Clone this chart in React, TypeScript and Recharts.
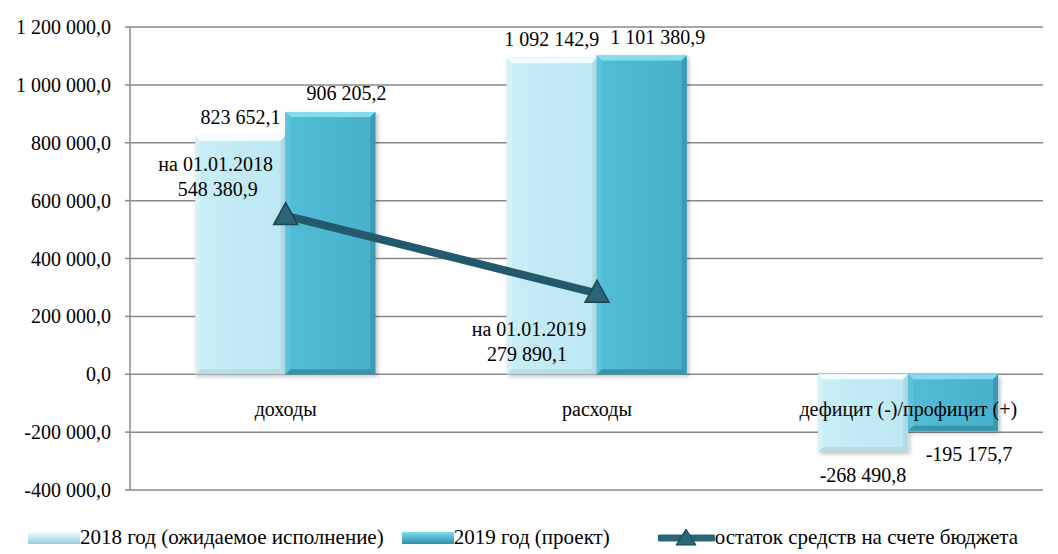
import React from "react";
import {
  ComposedChart,
  Bar,
  Line,
  XAxis,
  YAxis,
  CartesianGrid,
  LabelList,
  Legend,
} from "recharts";

const categories = ["доходы", "расходы", "дефицит (-)/профицит (+)"];
const expected2018 = [823652.1, 1092142.9, -268490.8];
const project2019 = [906205.2, 1101380.9, -195175.7];
const balance = [548380.9, 279890.1, null];
const balanceDates = ["на 01.01.2018", "на 01.01.2019", ""];
const yTicks = [-400000, -200000, 0, 200000, 400000, 600000, 800000, 1000000, 1200000];

const seriesNames = {
  a: "2018 год (ожидаемое исполнение)",
  b: "2019 год (проект)",
  c: "остаток средств на счете бюджета",
};

const data = categories.map((name, i) => ({
  name,
  a: expected2018[i],
  b: project2019[i],
  c: balance[i],
  date: balanceDates[i],
}));

const W = 1058;
const H = 554;
const MARGIN = { top: 27, right: -6, bottom: 0, left: 0 };
const X_AXIS_H = 2;
const LEGEND_H = 62;
const Y_AXIS_W = 130;
const GRID_RIGHT = 1043;
const DOMAIN: [number, number] = [-400000, 1200000];
const FONT = "Liberation Serif";
const FS = 20;

function fmt(v: number) {
  const neg = v < 0;
  const [int, dec] = Math.abs(v).toFixed(1).split(".");
  const grouped = int.replace(/\B(?=(\d{3})+(?!\d))/g, " ");
  return (neg ? "-" : "") + grouped + "," + dec;
}

const plotH = H - MARGIN.top - MARGIN.bottom - X_AXIS_H - LEGEND_H;
const zeroFromBottom = ((0 - DOMAIN[0]) / (DOMAIN[1] - DOMAIN[0])) * plotH;

function BevelBar(props: any) {
  const { x, y, width, height, light } = props;
  if (!width || !height) return null;
  const h = Math.abs(height);
  const top = height < 0 ? y + height : y;
  const b = 5;
  const id = light ? "gA" : "gB";
  const topC = light ? "#f4fdff" : "#86dcef";
  const rightC = light ? "#b2dbe6" : "#3a9bb4";
  const botC = light ? "#b6dce6" : "#3794ad";
  const leftC = light ? "#d5f1f8" : "#5cc3da";
  return (
    <g filter="url(#shadow)">
      <rect x={x} y={top} width={width} height={h} fill={`url(#${id})`} />
      <polygon
        points={`${x},${top} ${x + width},${top} ${x + width - b},${top + b} ${x + b},${top + b}`}
        fill={topC}
      />
      <polygon
        points={`${x + width},${top} ${x + width},${top + h} ${x + width - b},${top + h - b} ${x + width - b},${top + b}`}
        fill={rightC}
      />
      <polygon
        points={`${x},${top + h} ${x + width},${top + h} ${x + width - b},${top + h - b} ${x + b},${top + h - b}`}
        fill={botC}
      />
      <polygon
        points={`${x},${top} ${x + b},${top + b} ${x + b},${top + h - b} ${x},${top + h}`}
        fill={leftC}
      />
    </g>
  );
}

function BarValue(props: any) {
  const { x, y, width, height, value, shift } = props;
  const neg = value < 0;
  const cx = x + width / 2 + (shift || 0);
  const yy = neg ? Math.max(y, y + height) + 30 : Math.min(y, y + height) - 12;
  return (
    <text x={cx} y={yy} textAnchor="middle" fontFamily={FONT} fontSize={FS} fill="#000">
      {fmt(value)}
    </text>
  );
}

function LineValue(props: any) {
  const { x, y, value, index } = props;
  if (value == null) return null;
  const above = index === 0;
  const dx = above ? -70 : -68;
  const y1 = above ? y - 45 : y + 43;
  return (
    <text textAnchor="middle" fontFamily={FONT} fontSize={FS} fill="#000">
      <tspan x={x + dx} y={y1}>{data[index].date}</tspan>
      <tspan x={x + dx + (above ? 2 : -2)} y={y1 + 25}>{fmt(value)}</tspan>
    </text>
  );
}

function Triangle(props: any) {
  const { cx, cy, payload } = props;
  if (payload == null || payload.c == null) return null;
  return (
    <polygon
      points={`${cx},${cy - 13} ${cx + 12},${cy + 9} ${cx - 12},${cy + 9}`}
      fill="#2c6577"
      stroke="#1b4452"
      strokeWidth={1.5}
    />
  );
}

function CategoryTick(props: any) {
  const { x, y, payload } = props;
  return (
    <text
      x={x}
      y={y - zeroFromBottom - X_AXIS_H + 36}
      textAnchor="middle"
      fontFamily={FONT}
      fontSize={FS}
      fill="#000"
    >
      {payload.value}
    </text>
  );
}

function LegendContent() {
  const item = (swatch: React.ReactNode, label: string, ml: number) => (
    <span style={{ display: "inline-flex", alignItems: "center", marginLeft: ml }}>
      {swatch}
      <span>{label}</span>
    </span>
  );
  const box = (c1: string, c2: string) => (
    <svg width={52} height={14}>
      <defs>
        <linearGradient id={"lg" + c1.slice(1)} x1="0" y1="0" x2="0" y2="1">
          <stop offset="0" stopColor={c1} />
          <stop offset="1" stopColor={c2} />
        </linearGradient>
      </defs>
      <rect x={0} y={1} width={52} height={12} fill={`url(#lg${c1.slice(1)})`} />
    </svg>
  );
  return (
    <div
      style={{
        height: LEGEND_H,
        display: "flex",
        alignItems: "flex-end",
        fontFamily: FONT,
        fontSize: 21,
        color: "#000",
        paddingLeft: 28,
        paddingBottom: 4,
        boxSizing: "border-box",
        whiteSpace: "nowrap",
      }}
    >
      {item(box("#eefbff", "#9ad0de"), seriesNames.a, 0)}
      {item(box("#7fdcf0", "#2f8ea8"), seriesNames.b, 18)}
      {item(
        <svg width={57} height={20}>
          <line x1={2} y1={10} x2={55} y2={10} stroke="#2c6577" strokeWidth={7} strokeLinecap="round" />
          <polygon points="28,1 38,17 18,17" fill="#2c6577" stroke="#1b4452" />
        </svg>,
        seriesNames.c,
        48
      )}
    </div>
  );
}

export default function App() {
  return (
    <div style={{ position: "absolute", left: 0, top: 0, width: W, height: H, background: "#fff", fontFamily: FONT }}>
      <ComposedChart
        width={W}
        height={H}
        data={data}
        margin={MARGIN}
        barCategoryGap="21%"
        barGap={0}
      >
        <defs>
          <linearGradient id="gA" x1="0" y1="0" x2="1" y2="0">
            <stop offset="0" stopColor="#c9eef7" />
            <stop offset="1" stopColor="#bde7f2" />
          </linearGradient>
          <linearGradient id="gB" x1="0" y1="0" x2="1" y2="0">
            <stop offset="0" stopColor="#52bdd6" />
            <stop offset="1" stopColor="#47b0ca" />
          </linearGradient>
          <filter id="shadow" x="-10%" y="-10%" width="125%" height="125%">
            <feDropShadow dx="2" dy="2" stdDeviation="2" floodColor="#000" floodOpacity="0.25" />
          </filter>
        </defs>
        <CartesianGrid
          vertical={false}
          stroke="#8a8a8a"
          strokeWidth={1.5}
          x={Y_AXIS_W}
          width={GRID_RIGHT - Y_AXIS_W}
        />
        <XAxis
          dataKey="name"
          axisLine={false}
          tickLine={false}
          height={X_AXIS_H}
          tick={<CategoryTick />}
          interval={0}
        />
        <YAxis
          domain={DOMAIN}
          ticks={yTicks}
          width={Y_AXIS_W}
          tickFormatter={fmt}
          tick={{ fontFamily: FONT, fontSize: FS, fill: "#000" }}
          axisLine={{ stroke: "#8a8a8a", strokeWidth: 1.5 }}
          tickLine={{ stroke: "#8a8a8a", strokeWidth: 1.5 }}
          tickSize={5}
          tickMargin={14}
        />
        <Legend verticalAlign="bottom" height={LEGEND_H} content={<LegendContent />} />
        <Bar dataKey="a" name={seriesNames.a} shape={<BevelBar light />} isAnimationActive={false}>
          <LabelList dataKey="a" content={<BarValue shift={0} />} />
        </Bar>
        <Bar dataKey="b" name={seriesNames.b} shape={<BevelBar />} isAnimationActive={false}>
          <LabelList dataKey="b" content={<BarValue shift={16} />} />
        </Bar>
        <Line
          dataKey="c"
          name={seriesNames.c}
          stroke="#23596a"
          strokeWidth={8}
          dot={<Triangle />}
          activeDot={false}
          connectNulls={false}
          isAnimationActive={false}
        >
          <LabelList dataKey="c" content={<LineValue />} />
        </Line>
      </ComposedChart>
    </div>
  );
}
